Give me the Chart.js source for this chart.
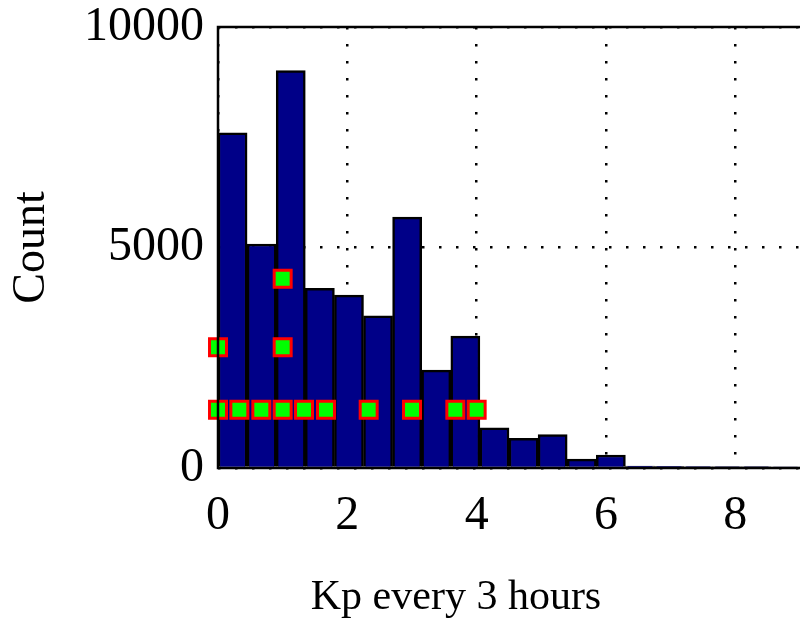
<!DOCTYPE html>
<html>
<head>
<meta charset="utf-8">
<script src="https://cdn.jsdelivr.net/npm/chart.js@4"></script>
<style>
  html, body { margin: 0; padding: 0; background: #fff; overflow: hidden; }
  #wrap { width: 800px; height: 625px; }
</style>
</head>
<body>
<div id="wrap"><canvas id="kp"></canvas></div>
<script>
// histogram bins of Kp (width 0.45), centre of each bin
const binCenters = [0.225, 0.675, 1.125, 1.575, 2.025, 2.475, 2.925, 3.375, 3.825, 4.275,
                    4.725, 5.175, 5.625, 6.075, 6.525, 6.975, 7.425, 7.875, 8.325, 8.775];
const binCounts = [7600, 5080, 9010, 4075, 3920, 3450, 5690, 2220, 2990, 910,
                   670, 755, 200, 295, 45, 40, 35, 30, 30, 25];

// green markers (event Kp values, stacked)
const eventKp    = [0, 0.33, 0.67, 1, 1.33, 1.67, 2.33, 3, 3.67, 4, 0, 1, 1];
const eventLevel = [1320, 1320, 1320, 1320, 1320, 1320, 1320, 1320, 1320, 1320, 2740, 2740, 4290];

const xTicks = [0, 2, 4, 6, 8];
const yTicks = [0, 5000, 10000];
const xTitle = 'Kp every 3 hours';

const FONT = "'Liberation Serif', 'DejaVu Serif', serif";

// left, top and bottom frame lines (no right one - the plot runs off the edge)
// plus the x title, which sits left of the plot centre in the original
const framePlugin = {
    id: 'frame',
    afterDatasetsDraw(chart) {
        const { ctx, chartArea: a } = chart;
        ctx.save();
        ctx.strokeStyle = '#000';
        ctx.lineWidth = 2.5;
        ctx.beginPath();
        ctx.moveTo(a.right + 2, a.top);
        ctx.lineTo(a.left, a.top);
        ctx.lineTo(a.left, a.bottom);
        ctx.lineTo(a.right + 2, a.bottom);
        ctx.stroke();

        ctx.fillStyle = '#000';
        ctx.font = "42px " + FONT;
        ctx.textAlign = 'center';
        ctx.textBaseline = 'middle';
        ctx.fillText(xTitle, 456, 598);
        ctx.restore();
    }
};

// drop the automatic label padding so the plot area sits where the original has it
const noPad = s => { s.paddingLeft = 0; s.paddingRight = 0; s.paddingTop = 0; s.paddingBottom = 0; };

new Chart(document.getElementById('kp').getContext('2d'), {
    data: {
        datasets: [
            {
                type: 'scatter',
                data: eventKp.map((x, i) => ({ x, y: eventLevel[i] })),
                pointStyle: 'rect',
                pointRadius: 12,
                pointHoverRadius: 12,
                backgroundColor: '#00ff00',
                borderColor: '#ff0000',
                borderWidth: 3,
                clip: false,
                order: 0
            },
            {
                type: 'bar',
                data: binCenters.map((x, i) => ({ x, y: binCounts[i] })),
                backgroundColor: '#000088',
                borderColor: '#000',
                borderWidth: 2.5,
                barPercentage: 1,
                categoryPercentage: 1,
                grouped: false,
                order: 1
            }
        ]
    },
    options: {
        responsive: true,
        maintainAspectRatio: false,
        animation: false,
        events: [],
        layout: { autoPadding: false, padding: { top: 27, right: 0, bottom: 0, left: 0 } },
        plugins: { legend: { display: false }, tooltip: { enabled: false } },
        scales: {
            x: {
                type: 'linear',
                min: 0,
                max: 9,
                offset: false,
                afterBuildTicks: s => { s.ticks = xTicks.map(v => ({ value: v })); },
                afterFit: s => { s.height = 157; noPad(s); },
                ticks: {
                    color: '#000',
                    font: { family: FONT, size: 48 },
                    padding: 20,
                    maxRotation: 0,
                    autoSkip: false,
                    callback: v => String(v)
                },
                grid: {
                    color: '#000',
                    lineWidth: 2.5,
                    drawTicks: false,
                    offset: false
                },
                border: { display: false, dash: [2.5, 14.5] }
            },
            y: {
                min: 0,
                max: 10000,
                afterBuildTicks: s => { s.ticks = yTicks.map(v => ({ value: v })); },
                afterFit: s => { s.width = 218; noPad(s); },
                ticks: {
                    color: '#000',
                    font: { family: FONT, size: 48 },
                    padding: 14,
                    callback: v => String(v)
                },
                grid: {
                    color: '#000',
                    lineWidth: 2.5,
                    drawTicks: false
                },
                border: { display: false, dash: [2.5, 14.5] },
                title: {
                    display: true,
                    text: 'Count',
                    color: '#000',
                    font: { family: FONT, size: 46 },
                    padding: { top: 4, bottom: 0 }
                }
            }
        }
    },
    plugins: [framePlugin]
});
</script>
</body>
</html>
